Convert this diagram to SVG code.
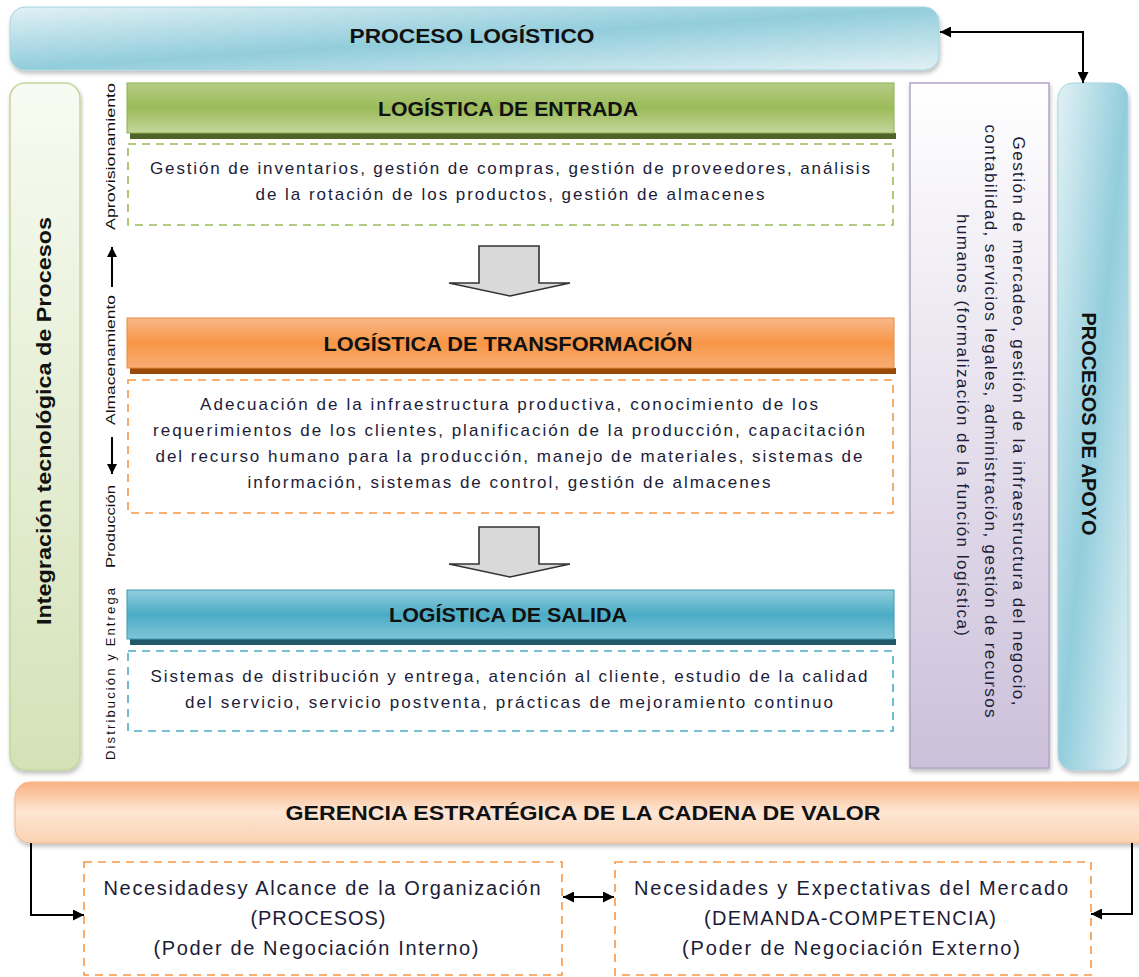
<svg xmlns="http://www.w3.org/2000/svg" width="1139" height="977" viewBox="0 0 1139 977">
<style>
.hdr{font-family:"Liberation Sans",Arial,sans-serif;font-weight:bold;fill:#111;text-anchor:middle}
.body{font-family:"Liberation Sans",Arial,sans-serif;font-size:17px;fill:#1c1c38;text-anchor:middle}
.lbl{font-family:"Liberation Sans",Arial,sans-serif;font-size:13px;fill:#111;text-anchor:middle}
.bot{font-family:"Liberation Sans",Arial,sans-serif;font-size:20px;fill:#1c1c38;text-anchor:middle}
.dash{fill:#fff;stroke-width:1.6;stroke-dasharray:8 6}
.conn{fill:none;stroke:#000;stroke-width:2}
.blk{fill:#d9d9d9;stroke:#333;stroke-width:1.6;stroke-linejoin:miter}
</style>
<defs>
<linearGradient id="gBlue" x1="0" y1="0" x2="1" y2="1"><stop offset="0" stop-color="#e2f1f5"/><stop offset="0.5" stop-color="#92cddc"/><stop offset="1" stop-color="#e2f1f5"/></linearGradient>
<linearGradient id="gGreenBar" x1="0" y1="0" x2="0" y2="1"><stop offset="0" stop-color="#f8fbf2"/><stop offset="1" stop-color="#d4e2b8"/></linearGradient>
<linearGradient id="gPurple" x1="0" y1="0" x2="0" y2="1"><stop offset="0" stop-color="#ffffff"/><stop offset="1" stop-color="#ccc0da"/></linearGradient>
<linearGradient id="gOrangeBar" x1="0" y1="0" x2="0" y2="1"><stop offset="0" stop-color="#f9b282"/><stop offset="0.5" stop-color="#fde6d4"/><stop offset="1" stop-color="#fbd2b0"/></linearGradient>
<linearGradient id="gHG" x1="0" y1="0" x2="0" y2="1"><stop offset="0" stop-color="#b4cd85"/><stop offset="0.5" stop-color="#9bbb59"/><stop offset="1" stop-color="#c3d79d"/></linearGradient>
<linearGradient id="gHO" x1="0" y1="0" x2="0" y2="1"><stop offset="0" stop-color="#fab88a"/><stop offset="0.5" stop-color="#f79646"/><stop offset="1" stop-color="#f9ad74"/></linearGradient>
<linearGradient id="gHB" x1="0" y1="0" x2="0" y2="1"><stop offset="0" stop-color="#93cddd"/><stop offset="0.5" stop-color="#4bacc6"/><stop offset="1" stop-color="#80c4d7"/></linearGradient>
<filter id="sh" x="-5%" y="-5%" width="110%" height="120%"><feDropShadow dx="1" dy="3" stdDeviation="2" flood-color="#000" flood-opacity="0.25"/></filter>
<marker id="ah" viewBox="0 0 10 10" refX="10" refY="5" markerWidth="13" markerHeight="11" markerUnits="userSpaceOnUse" orient="auto-start-reverse"><path d="M0,0 L10,5 L0,10 z" fill="#000"/></marker>
<marker id="ahs" viewBox="0 0 10 10" refX="10" refY="5" markerWidth="12" markerHeight="10" markerUnits="userSpaceOnUse" orient="auto-start-reverse"><path d="M0,0 L10,5 L0,10 z" fill="#000"/></marker>
</defs>
<rect width="1139" height="977" fill="#fff"/>

<g id="proceso-logistico">
<rect x="10" y="7" width="929" height="63" rx="15" fill="url(#gBlue)" stroke="#a5d5e2" stroke-width="1" filter="url(#sh)"/>
<text class="hdr" x="472" y="43" font-size="21" textLength="245" lengthAdjust="spacingAndGlyphs">PROCESO LOGÍSTICO</text>
</g>

<g id="integracion">
<rect x="10" y="83" width="70" height="687" rx="15" fill="url(#gGreenBar)" stroke="#c3d69b" stroke-width="1.5" filter="url(#sh)"/>
<text class="hdr" font-size="20" transform="translate(51,421) rotate(-90)" x="0" y="0" textLength="408" lengthAdjust="spacingAndGlyphs">Integración tecnológica de Procesos</text>
</g>

<g id="etapas">
<text class="lbl" transform="translate(115,156.5) rotate(-90)" textLength="147" lengthAdjust="spacingAndGlyphs">Aprovisionamiento</text>
<text class="lbl" transform="translate(115,360) rotate(-90)" textLength="130" lengthAdjust="spacingAndGlyphs">Almacenamiento</text>
<text class="lbl" transform="translate(115,526.5) rotate(-90)" textLength="83" lengthAdjust="spacingAndGlyphs">Producción</text>
<text class="lbl" transform="translate(115,674) rotate(-90)" textLength="172" lengthAdjust="spacing">Distribución y Entrega</text>
</g>

<g id="logistica-entrada">
<rect x="130" y="133" width="766" height="6" fill="#4f6228"/>
<rect x="127" y="83" width="767" height="50" fill="url(#gHG)" stroke="#8eb04e" stroke-width="1"/>
<text class="hdr" x="508" y="116" font-size="20" textLength="260" lengthAdjust="spacingAndGlyphs">LOGÍSTICA DE ENTRADA</text>
</g>
<g id="entrada-detalle">
<rect class="dash" x="128" y="144" width="765" height="81" stroke="#9bbb59"/>
<text class="body" x="510" y="174" textLength="720" lengthAdjust="spacing">Gestión de inventarios, gestión de compras, gestión de proveedores, análisis</text>
<text class="body" x="510" y="200" textLength="509" lengthAdjust="spacing">de la rotación de los productos, gestión de almacenes</text>
</g>

<g id="logistica-transformacion">
<rect x="130" y="368" width="766" height="6" fill="#984807"/>
<rect x="127" y="318" width="767" height="50" fill="url(#gHO)" stroke="#e98a3c" stroke-width="1"/>
<text class="hdr" x="508" y="351" font-size="20" textLength="369" lengthAdjust="spacingAndGlyphs">LOGÍSTICA DE TRANSFORMACIÓN</text>
</g>
<g id="transformacion-detalle">
<rect class="dash" x="128" y="380" width="765" height="133" stroke="#f79646"/>
<text class="body" x="509" y="410" textLength="618" lengthAdjust="spacing">Adecuación de la infraestructura productiva, conocimiento de los</text>
<text class="body" x="509" y="436" textLength="712" lengthAdjust="spacing">requerimientos de los clientes, planificación de la producción, capacitación</text>
<text class="body" x="509" y="462" textLength="707" lengthAdjust="spacing">del recurso humano para la producción, manejo de materiales, sistemas de</text>
<text class="body" x="509" y="488" textLength="523" lengthAdjust="spacing">información, sistemas de control, gestión de almacenes</text>
</g>

<g id="logistica-salida">
<rect x="130" y="639" width="766" height="6" fill="#215968"/>
<rect x="127" y="590" width="767" height="49" fill="url(#gHB)" stroke="#3d9ab3" stroke-width="1"/>
<text class="hdr" x="508" y="622" font-size="20" textLength="238" lengthAdjust="spacingAndGlyphs">LOGÍSTICA DE SALIDA</text>
</g>
<g id="salida-detalle">
<rect class="dash" x="128" y="651" width="765" height="80" stroke="#4bacc6"/>
<text class="body" x="509" y="682" textLength="717" lengthAdjust="spacing">Sistemas de distribución y entrega, atención al cliente, estudio de la calidad</text>
<text class="body" x="509" y="708" textLength="648" lengthAdjust="spacing">del servicio, servicio postventa, prácticas de mejoramiento continuo</text>
</g>

<g id="apoyo-detalle">
<rect x="910" y="83" width="139" height="685" fill="url(#gPurple)" stroke="#b3a2c7" stroke-width="1.5" filter="url(#sh)"/>
<text class="body" font-size="16" transform="translate(1013,421) rotate(90)" textLength="569" lengthAdjust="spacing">Gestión de mercadeo, gestión de la infraestructura del negocio,</text>
<text class="body" font-size="16" transform="translate(985,421) rotate(90)" textLength="593" lengthAdjust="spacing">contabilidad, servicios legales, administración, gestión de recursos</text>
<text class="body" font-size="16" transform="translate(957,425) rotate(90)" textLength="422" lengthAdjust="spacing">humanos (formalización de la función logística)</text>
</g>

<g id="procesos-apoyo">
<rect x="1058" y="83" width="70" height="687" rx="15" fill="url(#gBlue)" stroke="#a5d5e2" stroke-width="1" filter="url(#sh)"/>
<text class="hdr" font-size="20" transform="translate(1082,424) rotate(90)" textLength="223" lengthAdjust="spacingAndGlyphs">PROCESOS DE APOYO</text>
</g>

<g id="gerencia">
<rect x="15" y="782" width="1140" height="61" rx="15" fill="url(#gOrangeBar)" stroke="#f7b58a" stroke-width="1" filter="url(#sh)"/>
<text class="hdr" x="583" y="820" font-size="21" textLength="595" lengthAdjust="spacingAndGlyphs">GERENCIA ESTRATÉGICA DE LA CADENA DE VALOR</text>
</g>

<g id="necesidades-organizacion">
<rect class="dash" x="84" y="862" width="478" height="113" stroke="#f79646"/>
<text class="bot" x="322" y="895" textLength="437" lengthAdjust="spacing">Necesidadesy Alcance de la Organización</text>
<text class="bot" x="318" y="925" textLength="135" lengthAdjust="spacing">(PROCESOS)</text>
<text class="bot" x="316" y="955" textLength="325" lengthAdjust="spacing">(Poder de Negociación Interno)</text>
</g>

<g id="necesidades-mercado">
<rect class="dash" x="615" y="862" width="476" height="113" stroke="#f79646"/>
<text class="bot" x="851" y="895" textLength="434" lengthAdjust="spacing">Necesidades y Expectativas del Mercado</text>
<text class="bot" x="850" y="925" textLength="292" lengthAdjust="spacing">(DEMANDA-COMPETENCIA)</text>
<text class="bot" x="851" y="955" textLength="338" lengthAdjust="spacing">(Poder de Negociación Externo)</text>
</g>

<g id="connectors">
<path class="conn" d="M940,32 H1083 V83" marker-start="url(#ah)" marker-end="url(#ah)"/>
<path class="conn" d="M31,843 V915 H84" marker-end="url(#ah)"/>
<path class="conn" d="M1132,843 V914 H1091" marker-end="url(#ah)"/>
<path class="conn" d="M563,897 H614" marker-start="url(#ah)" marker-end="url(#ah)"/>
<path class="conn" d="M112,287 V247" marker-end="url(#ahs)"/>
<path class="conn" d="M112,437 V474" marker-end="url(#ahs)"/>
<path class="blk" d="M479,246 H539 V283 H570 L510,296 L449,283 H479 Z"/>
<path class="blk" d="M479,527 H539 V564 H570 L510,577 L449,564 H479 Z"/>
</g>
</svg>
